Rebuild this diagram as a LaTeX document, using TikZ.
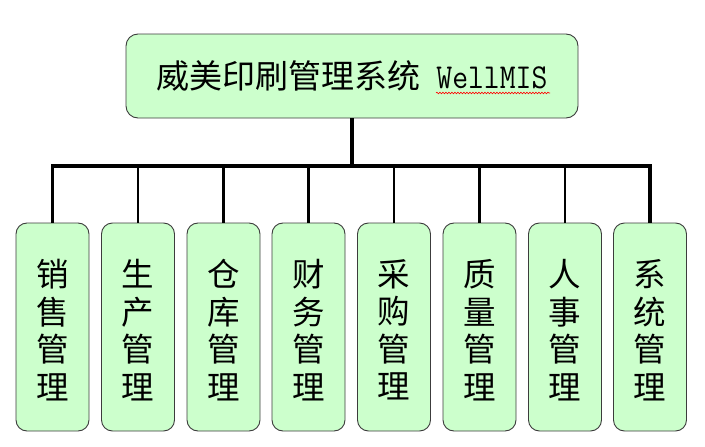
\documentclass[tikz,border=0pt]{standalone}
\usepackage{fontspec}
\newfontfamily\cjk{Noto Sans CJK SC}
\newfontfamily\wmono[FakeStretch=0.88]{Latin Modern Mono}
\usetikzlibrary{decorations.pathmorphing}
\definecolor{boxgreen}{RGB}{204,255,204}
\definecolor{boxedge}{RGB}{60,60,60}
\begin{document}
\begin{tikzpicture}[x=1pt,y=-1pt,
  topbox/.style={draw=boxedge, line width=0.9pt, fill=boxgreen, rounded corners=12pt,
    minimum width=452pt, minimum height=84pt, inner sep=0pt,
    font=\fontsize{33}{36.5}\selectfont},
  subbox/.style={draw=boxedge, line width=0.9pt, fill=boxgreen, rounded corners=11pt,
    minimum width=73pt, minimum height=208pt, inner sep=0pt},
  subtext/.style={inner sep=0pt, align=center,
    font=\cjk\fontsize{32.5}{37.5}\selectfont},
  trunkline/.style={line width=4pt, black},
  busline/.style={line width=3.3pt, black, line join=miter},
  dropline/.style={line width=2.8pt, black}]
\useasboundingbox (0,0) rectangle (705,447);
\node[topbox] (top) at (352,76) {{\cjk 威美印刷管理系统}{\wmono\fontsize{35}{36.5}\selectfont\ WellMIS}};
\coordinate (bus) at (352,166);
\foreach \n/\x in {b1/52.5,b2/138,b3/223.5,b4/308.5,b5/394,b6/479.5,b7/565,b8/650}
  \node[subbox] (\n) at (\x,327) {};
\node[subtext] (t1) at ([yshift=-3pt]b1.center) {销\\售\\管\\理};
\node[subtext] (t2) at ([yshift=-3pt]b2.center) {生\\产\\管\\理};
\node[subtext] (t3) at ([yshift=-3pt]b3.center) {仓\\库\\管\\理};
\node[subtext] (t4) at ([yshift=-3pt]b4.center) {财\\务\\管\\理};
\node[subtext] (t5) at ([yshift=-3pt]b5.center) {采\\购\\管\\理};
\node[subtext] (t6) at ([yshift=-3pt]b6.center) {质\\量\\管\\理};
\node[subtext] (t7) at ([yshift=-3pt]b7.center) {人\\事\\管\\理};
\node[subtext] (t8) at ([yshift=-3pt]b8.center) {系\\统\\管\\理};
\draw[trunkline] (top.south) -- (bus);
\draw[busline] (b1.north) -- (b1.north |- bus) -- (b8.north |- bus) -- (b8.north);
\foreach \n in {b2,b3,b4,b5,b6,b7}
  \draw[dropline] (\n.north) -- (\n.north |- bus);
\draw[red, line width=0.6pt, decorate, decoration={snake, amplitude=0.8pt, segment length=3pt}]
  (436,93) -- (550,93);
\end{tikzpicture}
\end{document}
